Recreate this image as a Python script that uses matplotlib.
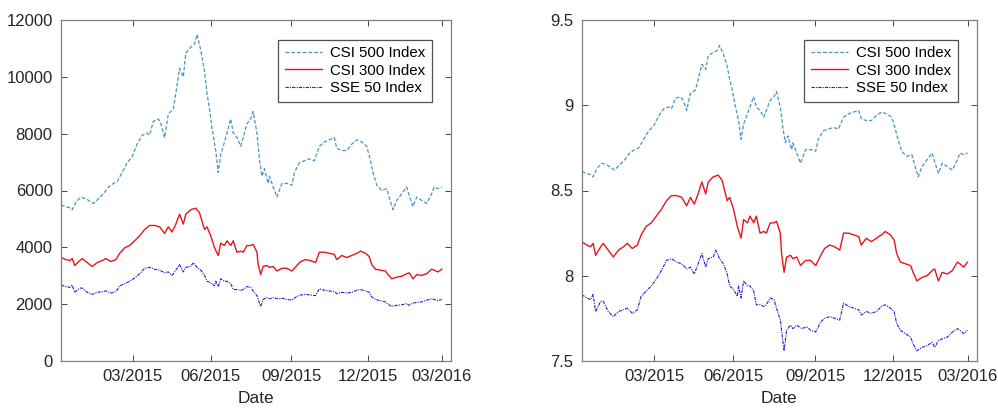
import numpy as np
import matplotlib
matplotlib.use("Agg")
import matplotlib.pyplot as plt

# Trading-session index (0 = first session shown) and natural-log index values
csi500_t = [0, 4, 8, 9, 12, 16, 20, 24, 26, 30, 34, 38, 42, 45, 49, 53, 57, 61, 65, 69, 71, 74, 78, 80, 83,
            86, 90, 92, 95, 98, 100, 104, 107, 109, 112, 115, 117, 119, 121, 124, 126, 128, 131, 133, 136,
            138, 141, 144, 146, 149, 152, 154, 157, 159, 161, 163, 166, 167, 171, 173, 177, 181, 185, 187,
            191, 195, 199, 203, 207, 211, 215, 219, 221, 225, 229, 233, 237, 241, 245, 248, 250, 253, 257,
            261, 264, 266, 269, 273, 277, 279, 282, 285, 289, 293, 297, 299, 302, 305]
csi500_ln = [8.61, 8.60, 8.59, 8.58, 8.63, 8.66, 8.65, 8.63, 8.62, 8.65, 8.68, 8.72, 8.74, 8.75, 8.80, 8.85,
             8.88, 8.94, 8.98, 8.99, 8.98, 9.04, 9.05, 9.03, 8.97, 9.07, 9.09, 9.15, 9.24, 9.21, 9.29, 9.31,
             9.32, 9.35, 9.30, 9.23, 9.15, 9.09, 9.01, 8.91, 8.80, 8.89, 8.95, 8.99, 9.05, 8.99, 8.97, 8.93,
             8.97, 9.03, 9.05, 9.08, 8.99, 8.87, 8.78, 8.82, 8.74, 8.78, 8.70, 8.66, 8.74, 8.74, 8.73, 8.80,
             8.85, 8.86, 8.87, 8.86, 8.93, 8.95, 8.96, 8.97, 8.92, 8.91, 8.91, 8.94, 8.96, 8.95, 8.93, 8.86,
             8.80, 8.73, 8.70, 8.71, 8.63, 8.58, 8.64, 8.68, 8.72, 8.67, 8.60, 8.66, 8.64, 8.62, 8.68, 8.72,
             8.71, 8.72]

csi300_t = [0, 4, 7, 9, 11, 15, 17, 21, 25, 29, 33, 36, 40, 44, 47, 51, 55, 59, 63, 67, 71, 75, 79, 83, 86,
            89, 92, 95, 98, 100, 104, 108, 111, 113, 115, 117, 120, 123, 126, 128, 131, 133, 136, 138, 141,
            144, 146, 149, 152, 154, 157, 158, 160, 162, 165, 167, 170, 173, 177, 181, 185, 189, 192, 196,
            200, 204, 207, 211, 215, 219, 221, 225, 229, 233, 237, 240, 244, 247, 249, 252, 256, 260, 262,
            265, 269, 273, 277, 279, 282, 285, 289, 293, 297, 299, 302, 305]
csi300_ln = [8.20, 8.18, 8.17, 8.19, 8.12, 8.17, 8.19, 8.15, 8.11, 8.15, 8.17, 8.19, 8.16, 8.18, 8.24, 8.29,
             8.31, 8.35, 8.39, 8.44, 8.47, 8.47, 8.46, 8.41, 8.46, 8.42, 8.48, 8.55, 8.48, 8.55, 8.58, 8.59,
             8.56, 8.50, 8.44, 8.46, 8.39, 8.29, 8.22, 8.33, 8.31, 8.35, 8.31, 8.35, 8.25, 8.26, 8.25, 8.31,
             8.31, 8.32, 8.25, 8.13, 8.02, 8.11, 8.12, 8.10, 8.11, 8.06, 8.09, 8.09, 8.06, 8.12, 8.16, 8.18,
             8.17, 8.15, 8.25, 8.25, 8.24, 8.23, 8.18, 8.22, 8.20, 8.22, 8.24, 8.26, 8.24, 8.21, 8.13, 8.08,
             8.07, 8.06, 8.02, 7.97, 7.99, 8.00, 8.03, 8.04, 7.97, 8.02, 8.01, 8.03, 8.08, 8.07, 8.05, 8.08]

sse50_t = [0, 4, 7, 9, 11, 15, 17, 21, 25, 29, 33, 36, 40, 44, 47, 51, 55, 59, 63, 67, 71, 75, 79, 83, 86,
           89, 92, 95, 98, 100, 104, 106, 109, 112, 115, 117, 120, 123, 124, 126, 128, 131, 133, 136, 138,
           141, 144, 146, 149, 152, 154, 157, 159, 160, 162, 165, 167, 170, 174, 178, 181, 185, 189, 192,
           196, 200, 204, 207, 211, 215, 219, 221, 225, 229, 233, 237, 240, 244, 247, 249, 252, 256, 260,
           262, 265, 269, 273, 277, 279, 282, 285, 289, 293, 297, 299, 302, 305]
sse50_ln = [7.89, 7.87, 7.86, 7.89, 7.79, 7.85, 7.85, 7.79, 7.76, 7.79, 7.80, 7.81, 7.78, 7.80, 7.88, 7.91,
            7.94, 7.98, 8.03, 8.09, 8.10, 8.08, 8.07, 8.04, 8.05, 8.01, 8.07, 8.13, 8.05, 8.10, 8.11, 8.15,
            8.10, 8.07, 8.01, 7.94, 7.92, 7.88, 7.94, 7.87, 7.97, 7.94, 7.94, 7.91, 7.83, 7.83, 7.82, 7.83,
            7.87, 7.86, 7.81, 7.74, 7.62, 7.56, 7.68, 7.71, 7.69, 7.71, 7.69, 7.70, 7.68, 7.67, 7.73, 7.75,
            7.76, 7.75, 7.74, 7.84, 7.82, 7.81, 7.80, 7.77, 7.79, 7.78, 7.79, 7.82, 7.83, 7.81, 7.79, 7.72,
            7.68, 7.66, 7.64, 7.60, 7.56, 7.58, 7.59, 7.61, 7.58, 7.62, 7.63, 7.64, 7.67, 7.69, 7.68, 7.66,
            7.68]

tick_pos = [57.5, 120.0, 184.6, 246.3, 305.0]
tick_labels = ["03/2015", "06/2015", "09/2015", "12/2015", "03/2016"]
series_names = ["CSI 500 Index", "CSI 300 Index", "SSE 50 Index"]

c500 = "#4a93c6"
c300 = "#e8141c"
c50 = "#1f1fd0"
axc = "#262626"
FONT = "Liberation Sans"

fig = plt.figure(figsize=(9.98, 4.08), dpi=100)
ax1 = fig.add_axes([61 / 998, 1 - 361 / 408, 390 / 998, 341 / 408])
ax2 = fig.add_axes([581.7 / 998, 1 - 361 / 408, 395.3 / 998, 341 / 408])

def style(ax, ylim, yticks, yticklabels):
    ax.set_xlim(0, 312.5)
    ax.set_ylim(*ylim)
    ax.set_xticks(tick_pos)
    ax.set_xticklabels(tick_labels, fontsize=12, family=FONT, color=axc)
    ax.set_yticks(yticks)
    ax.set_yticklabels(yticklabels, fontsize=12, family=FONT, color=axc)
    ax.tick_params(direction="in", top=True, right=True, length=4, width=0.6, colors=axc,
                   labelcolor=axc, pad=6)
    for s in ax.spines.values():
        s.set_color("#7f7f7f")
        s.set_linewidth(0.9)
    ax.set_xlabel("Date", fontsize=12.5, family=FONT, color=axc, labelpad=5)
    leg = ax.legend(loc="upper right", prop={"family": FONT, "size": 10.8}, frameon=True,
                    fancybox=False, edgecolor="#262626", handlelength=2.5, labelspacing=0.22,
                    borderaxespad=1.3, handletextpad=0.5, borderpad=0.45)
    leg.get_frame().set_linewidth(0.9)

ax1.plot(csi500_t, np.exp(csi500_ln), color=c500, ls=(0, (3, 1.6)), lw=0.9, label=series_names[0])
ax1.plot(csi300_t, np.exp(csi300_ln), color=c300, ls="-", lw=1.0, label=series_names[1])
ax1.plot(sse50_t, np.exp(sse50_ln), color=c50, ls=(0, (3, 1, 1, 1)), lw=0.8, label=series_names[2])
style(ax1, (0, 12000), [0, 2000, 4000, 6000, 8000, 10000, 12000],
      ["0", "2000", "4000", "6000", "8000", "10000", "12000"])

ax2.plot(csi500_t, csi500_ln, color=c500, ls=(0, (3, 1.6)), lw=0.9, label=series_names[0])
ax2.plot(csi300_t, csi300_ln, color=c300, ls="-", lw=1.0, label=series_names[1])
ax2.plot(sse50_t, sse50_ln, color=c50, ls=(0, (3, 1, 1, 1)), lw=0.8, label=series_names[2])
style(ax2, (7.5, 9.5), [7.5, 8, 8.5, 9, 9.5], ["7.5", "8", "8.5", "9", "9.5"])

fig.savefig("out.png", dpi=100)
